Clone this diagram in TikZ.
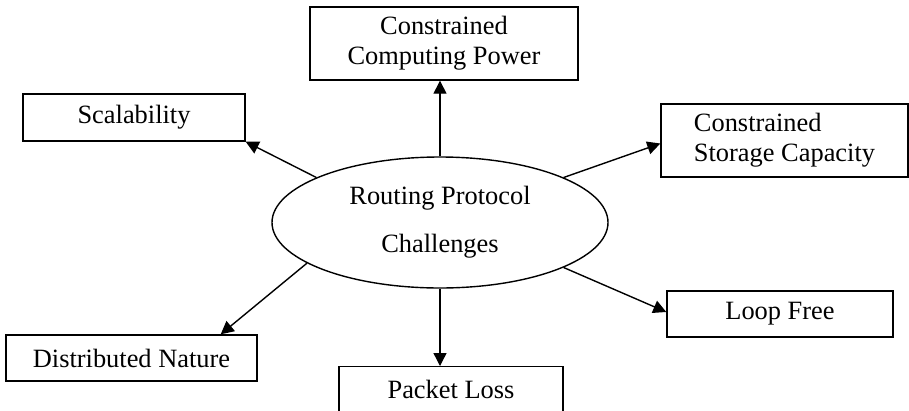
\documentclass[tikz,border=0pt]{standalone}
\usepackage{fontspec}
\setmainfont{Liberation Serif}
\usetikzlibrary{arrows.meta,shapes.geometric}

\tikzset{
  box/.style={draw, line width=1.4pt, inner sep=0pt, align=center},
  hub/.style={draw, ellipse, line width=1.4pt, inner sep=0pt,
              minimum width=336pt, minimum height=131pt, align=center},
  link/.style={line width=1.4pt, -{Triangle[length=13pt,width=13pt]}},
}

\begin{document}
\begin{tikzpicture}[x=1pt,y=-1pt,font=\fontsize{26.4}{30}\selectfont]
  \clip (0,0) rectangle (909,410);
  \fill[white] (0,0) rectangle (909,410);

  % central topic
  \node[hub] (hub) at (440,222.5) {Routing Protocol\\[18pt]Challenges};

  % surrounding challenges
  \node[box, minimum width=268pt, minimum height=73pt] (cp) at (444,43.5)
    {Constrained\\Computing Power};
  \node[box, minimum width=222pt, minimum height=47pt] (sc) at (134,117.5)
    {Scalability};
  \node[box, align=left, minimum width=247pt, minimum height=73pt] (st) at (784.5,140.5)
    {Constrained\\Storage Capacity};
  \node[box, minimum width=226pt, minimum height=46pt] (lf) at (780,314)
    {Loop Free};
  \node[box, minimum width=251pt, minimum height=46pt] (dn) at (131.5,358)
    {Distributed Nature};
  \node[box, anchor=north, minimum width=224pt, minimum height=88pt] (pl) at (451,366) {};
  \node (pltext) at (451,389) {Packet Loss};

  % connectors from the centre outwards
  \draw[link] (hub.north) -- (hub.north |- cp.south);
  \draw[link] (hub.160) -- (sc.south east);
  \draw[link] (hub.20.7) -- ([yshift=-3pt]st.west);
  \draw[link] (hub.-20.5) -- ([yshift=2pt]lf.west);
  \draw[link] (hub.197.7) -- ([xshift=-37pt]dn.north east);
  \draw[link] (hub.south) -- (hub.south |- pl.north);
\end{tikzpicture}
\end{document}
